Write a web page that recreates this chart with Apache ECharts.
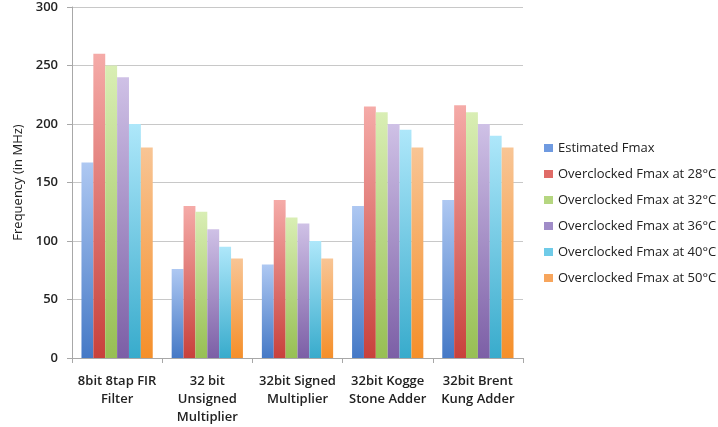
<!DOCTYPE html>
<html>
<head>
<meta charset="utf-8">
<script src="https://cdn.jsdelivr.net/npm/echarts@6/dist/echarts.min.js"></script>
<style>html,body{margin:0;padding:0;background:#fff}#c{width:718px;height:427px}</style>
</head>
<body>
<div id="c"></div>
<script>
const categories = ['8bit 8tap FIR\nFilter', '32 bit\nUnsigned\nMultiplier', '32bit Signed\nMultiplier', '32bit Kogge\nStone Adder', '32bit Brent\nKung Adder'];
const seriesNames = ['Estimated Fmax', 'Overclocked Fmax at 28°C', 'Overclocked Fmax at 32°C', 'Overclocked Fmax at 36°C', 'Overclocked Fmax at 40°C', 'Overclocked Fmax at 50°C'];
const estimated = [167, 76, 80, 130, 135];
const at28 = [260, 130, 135, 215, 216];
const at32 = [250, 125, 120, 210, 210];
const at36 = [240, 110, 115, 200, 200];
const at40 = [200, 95, 100, 195, 190];
const at50 = [180, 85, 85, 180, 180];
const yTicks = [0, 50, 100, 150, 200, 250, 300];

const topColors = ['#aec8f2', '#f5aba8', '#d9eeb4', '#cfc1e6', '#aee7fa', '#f8c595'];
const botColors = ['#4579c6', '#c8413c', '#97bf54', '#7c5fa6', '#38abcc', '#f58f2a'];
const midColors = ['#6f9ae0', '#e06b67', '#b5d680', '#a08cc8', '#6fcbe8', '#f7a55c'];
const allData = [estimated, at28, at32, at36, at40, at50];

const font = '"Open Sans", "Liberation Sans", sans-serif';
const chart = echarts.init(document.getElementById('c'), null, {renderer: 'canvas'});
chart.setOption({
  animation: false,
  backgroundColor: '#fff',
  grid: {left: 72, top: 7, right: 195, bottom: 69, containLabel: false},
  legend: {
    orient: 'vertical',
    left: 539,
    top: 135,
    itemWidth: 9,
    itemHeight: 8,
    itemGap: 10,
    icon: 'rect',
    textStyle: {fontFamily: font, fontSize: 13, color: '#222', lineHeight: 16},
    data: seriesNames.map((n, i) => ({name: n, itemStyle: {color: midColors[i]}}))
  },
  xAxis: {
    type: 'category',
    data: categories,
    axisLine: {lineStyle: {color: '#a8a8a8'}},
    axisTick: {show: true, length: 5, alignWithLabel: false, lineStyle: {color: '#a8a8a8'}},
    axisLabel: {fontFamily: font, fontSize: 13, fontWeight: 600, color: '#222', lineHeight: 18, margin: 14, interval: 0}
  },
  yAxis: {
    type: 'value',
    min: yTicks[0],
    max: yTicks[yTicks.length - 1],
    interval: 50,
    name: 'Frequency (in MHz)',
    nameLocation: 'middle',
    nameGap: 46,
    nameTextStyle: {fontFamily: font, fontSize: 13, color: '#222'},
    axisLine: {show: true, lineStyle: {color: '#a8a8a8'}},
    axisTick: {show: true, length: 5, lineStyle: {color: '#a8a8a8'}},
    axisLabel: {fontFamily: font, fontSize: 13, fontWeight: 600, color: '#222', margin: 14},
    splitLine: {lineStyle: {color: '#c8c8c8', width: 1}}
  },
  series: seriesNames.map((n, i) => ({
    name: n,
    type: 'bar',
    data: allData[i],
    barGap: '0%',
    barCategoryGap: '21%',
    itemStyle: {
      color: {type: 'linear', x: 0, y: 0, x2: 0, y2: 1, colorStops: [
        {offset: 0, color: topColors[i]}, {offset: 1, color: botColors[i]}
      ]}
    }
  }))
});
</script>
</body>
</html>
